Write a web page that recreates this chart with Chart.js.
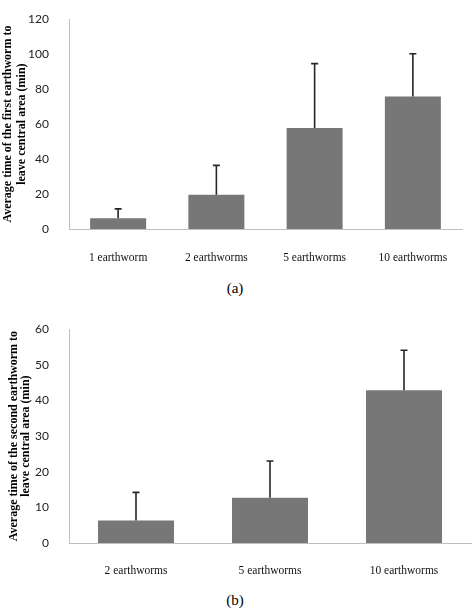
<!DOCTYPE html>
<html>
<head>
<meta charset="utf-8">
<script src="https://cdn.jsdelivr.net/npm/chart.js@4.4.1/dist/chart.umd.min.js"></script>
<style>
  body { margin: 0; background: #fff; width: 474px; height: 612px; position: relative; overflow: hidden; }
  .box { position: absolute; left: 0; width: 474px; }
  .cap { position: absolute; width: 474px; left: -2px; text-align: center; font-family: "Liberation Serif", serif; font-size: 15px; color: #000; }
</style>
</head>
<body>
<div class="box" style="top:0;height:262px"><canvas id="chartA"></canvas></div>
<div class="cap" style="top:280px">(a)</div>
<div class="box" style="top:310px;height:270px"><canvas id="chartB"></canvas></div>
<div class="cap" style="top:592px">(b)</div>
<script>
// Panel (a)
const labelsA = ['1 earthworm', '2 earthworms', '5 earthworms', '10 earthworms'];
const meanA = [6.1, 19.6, 57.8, 75.8];
const errA = [5.4, 16.8, 36.8, 24.4];
const ticksA = [0, 20, 40, 60, 80, 100, 120];

// Panel (b)
const labelsB = ['2 earthworms', '5 earthworms', '10 earthworms'];
const meanB = [6.3, 12.7, 42.9];
const errB = [7.9, 10.3, 11.2];
const ticksB = [0, 10, 20, 30, 40, 50, 60];

// draws the upper error bar (stem + cap) for each bar
const errorBars = {
  id: 'errorBars',
  afterDatasetsDraw(chart, args, opts) {
    const ctx = chart.ctx;
    const meta = chart.getDatasetMeta(0);
    const y = chart.scales.y;
    const vals = chart.data.datasets[0].data;
    ctx.save();
    ctx.strokeStyle = '#262626';
    ctx.lineWidth = 1.6;
    meta.data.forEach((bar, i) => {
      const top = y.getPixelForValue(vals[i] + opts.err[i]);
      const base = y.getPixelForValue(vals[i]);
      ctx.beginPath();
      ctx.moveTo(bar.x, base);
      ctx.lineTo(bar.x, top);
      ctx.moveTo(bar.x - 3.5, top);
      ctx.lineTo(bar.x + 3.5, top);
      ctx.stroke();
    });
    ctx.restore();
  }
};

function makeChart(id, labels, data, err, ticks, title, o) {
  return new Chart(document.getElementById(id), {
    type: 'bar',
    data: {
      labels: labels,
      datasets: [{
        data: data,
        backgroundColor: '#777777',
        borderWidth: 0,
        categoryPercentage: 1,
        barPercentage: o.barPct
      }]
    },
    plugins: [errorBars],
    options: {
      responsive: true,
      maintainAspectRatio: false,
      animation: false,
      events: [],
      layout: { padding: { top: o.top, right: o.right, left: 0, bottom: 0 } },
      plugins: {
        legend: { display: false },
        tooltip: { enabled: false },
        errorBars: { err: err }
      },
      scales: {
        x: {
          grid: { display: false },
          border: { display: true, color: '#bfbfbf', width: 1 },
          ticks: {
            color: '#111',
            padding: o.xPad,
            maxRotation: 0,
            font: { family: '"Liberation Serif", serif', size: 11.5 }
          },
          afterFit(s) { s.height = o.xH; }
        },
        y: {
          min: 0,
          max: ticks[ticks.length - 1],
          afterBuildTicks(s) { s.ticks = ticks.map(v => ({ value: v })); },
          grid: { display: false },
          border: { display: true, color: '#bfbfbf', width: 1 },
          ticks: {
            color: '#222',
            padding: 12,
            font: { family: 'Lato, sans-serif', size: 12 }
          },
          title: {
            display: true,
            text: title,
            color: '#000',
            padding: { top: o.titlePad, bottom: 0 },
            font: { family: '"Liberation Serif", serif', size: 12, weight: 'bold', lineHeight: o.titleLH }
          },
          afterFit(s) { s.width = 69; }
        }
      }
    }
  });
}

makeChart('chartA', labelsA, meanA, errA, ticksA,
  ['Average time of the first earthworm to', 'leave central area (min)'],
  { barPct: 0.57, top: 7, right: 12, xPad: 14, xH: 33, titlePad: 1.5, titleLH: 1.15 });

makeChart('chartB', labelsB, meanB, errB, ticksB,
  ['Average time of the second earthworm to', 'leave central area (min)'],
  { barPct: 0.567, top: 12, right: 3, xPad: 13, xH: 37, titlePad: 8, titleLH: 1.0 });
</script>
</body>
</html>
